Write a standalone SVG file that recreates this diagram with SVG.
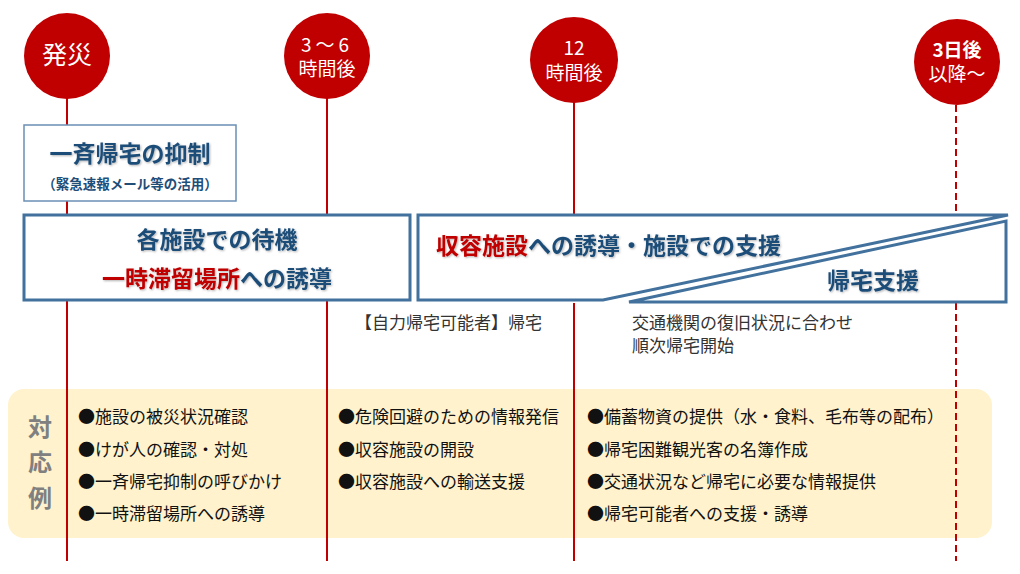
<svg xmlns="http://www.w3.org/2000/svg" width="1020" height="574" viewBox="0 0 1020 574">
<defs>
<filter id="sh" x="-5%" y="-20%" width="110%" height="140%">
<feDropShadow dx="1" dy="1" stdDeviation="0.8" flood-color="#000" flood-opacity="0.3"/>
</filter>
</defs>
<style>
text{font-family:"Noto Sans CJK JP","Noto Sans",sans-serif}
.tl{stroke:#c00000;stroke-width:2;fill:none}
.dash{stroke-dasharray:7 4}
.circ{fill:#c00000}
.ct{fill:#fff;font-size:19px;text-anchor:middle}
.hd{font-size:23px;font-weight:bold;fill:#1f4e79}
.red{fill:#c00000}
.box{fill:#fff;stroke:#41719c;stroke-width:3}
.note{font-size:17px;fill:#333}
.li{font-size:17px;fill:#111}
</style>
<rect id="band" x="8" y="389" width="984" height="149" rx="16" fill="#fff2cc"/>
<g id="connectors">
<line class="tl" x1="67" y1="98" x2="67" y2="561"/>
<line class="tl" x1="327" y1="98" x2="327" y2="561"/>
<line class="tl" x1="574" y1="102" x2="574" y2="561"/>
<line class="tl dash" x1="956" y1="105" x2="956" y2="561"/>
</g>
<g id="t0">
<circle class="circ" cx="67" cy="56" r="43"/>
<text class="ct" x="67" y="64" style="font-size:25px">発災</text>
</g>
<g id="t1">
<circle class="circ" cx="327" cy="56" r="43"/>
<text class="ct" x="327" y="52" style="letter-spacing:4px">3～6</text>
<text class="ct" x="327" y="76">時間後</text>
</g>
<g id="t2">
<ellipse class="circ" cx="574" cy="60" rx="44" ry="43"/>
<text class="ct" x="574" y="55">12</text>
<text class="ct" x="574" y="80">時間後</text>
</g>
<g id="t3">
<circle class="circ" cx="957" cy="62" r="43"/>
<text class="ct" x="957" y="57" font-weight="bold">3日後</text>
<text class="ct" x="957" y="81">以降～</text>
</g>
<g id="box1">
<rect x="24" y="125" width="212" height="76" fill="#fff" stroke="#6a8fb5" stroke-width="1.5"/>
<text class="hd" x="130" y="162" text-anchor="middle" filter="url(#sh)">一斉帰宅の抑制</text>
<text x="130" y="189" text-anchor="middle" font-size="13.5" font-weight="bold" fill="#1f4e79">（緊急速報メール等の活用）</text>
</g>
<g id="box2">
<rect class="box" x="24" y="215" width="386" height="85"/>
<text class="hd" x="217" y="248" text-anchor="middle" filter="url(#sh)">各施設での待機</text>
<text class="hd" x="217" y="287" text-anchor="middle" filter="url(#sh)"><tspan class="red">一時滞留場所</tspan>への誘導</text>
</g>
<g id="box3">
<rect x="418" y="214" width="590" height="89" fill="#fff"/>
<polygon class="box" points="418,215 1008,215 603,300 418,300"/>
<polygon class="box" points="629,302 1006,302 1006,221"/>
<text class="hd" x="436" y="254" filter="url(#sh)"><tspan class="red">収容施設</tspan>への誘導・施設での支援</text>
<text class="hd" x="827" y="289" filter="url(#sh)">帰宅支援</text>
</g>
<g id="notes">
<text class="note" x="355" y="329">【自力帰宅可能者】帰宅</text>
<text class="note" x="632" y="329">交通機関の復旧状況に合わせ</text>
<text class="note" x="632" y="352">順次帰宅開始</text>
</g>
<g id="label">
<text x="40" y="436" text-anchor="middle" font-size="24" font-weight="bold" fill="#808080">対</text>
<text x="40" y="471" text-anchor="middle" font-size="24" font-weight="bold" fill="#808080">応</text>
<text x="40" y="507" text-anchor="middle" font-size="24" font-weight="bold" fill="#808080">例</text>
</g>
<g id="col1">
<text class="li" x="78" y="423">●施設の被災状況確認</text>
<text class="li" x="78" y="456">●けが人の確認・対処</text>
<text class="li" x="78" y="488">●一斉帰宅抑制の呼びかけ</text>
<text class="li" x="78" y="520">●一時滞留場所への誘導</text>
</g>
<g id="col2">
<text class="li" x="338" y="423">●危険回避のための情報発信</text>
<text class="li" x="338" y="456">●収容施設の開設</text>
<text class="li" x="338" y="488">●収容施設への輸送支援</text>
</g>
<g id="col3">
<text class="li" x="587" y="423">●備蓄物資の提供（水・食料、毛布等の配布）</text>
<text class="li" x="587" y="456">●帰宅困難観光客の名簿作成</text>
<text class="li" x="587" y="488">●交通状況など帰宅に必要な情報提供</text>
<text class="li" x="587" y="520">●帰宅可能者への支援・誘導</text>
</g>
</svg>
